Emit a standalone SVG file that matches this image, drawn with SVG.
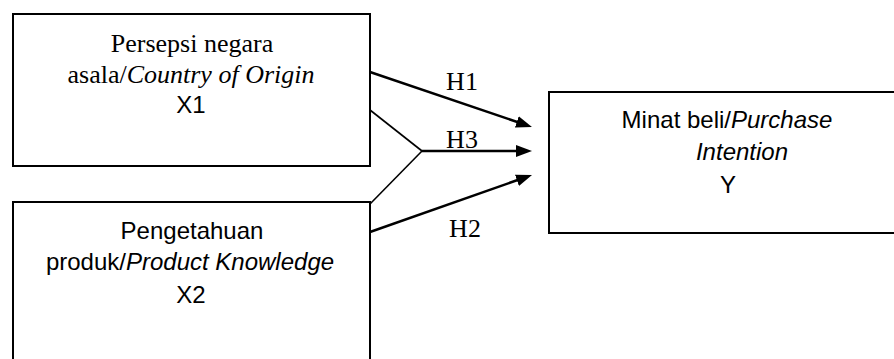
<svg xmlns="http://www.w3.org/2000/svg" width="894" height="359" viewBox="0 0 894 359">
<defs>
<style>
.box{fill:#fff;stroke:#000;stroke-width:2}
.serif{font-family:"Liberation Serif","Times New Roman",serif;font-size:26px;fill:#000}
.sans{font-family:"Liberation Sans",Arial,sans-serif;font-size:24px;fill:#000}
.lbl{font-family:"Liberation Serif","Times New Roman",serif;font-size:26px;fill:#000;text-anchor:middle}
.c{text-anchor:middle}
.it{font-style:italic}
.arr{stroke:#000;stroke-width:2.5;fill:none}
.thin{stroke:#000;stroke-width:1.6;fill:none}
</style>
<marker id="ah" viewBox="0 0 16 12" markerWidth="16" markerHeight="12" refX="6" refY="6" orient="auto" markerUnits="userSpaceOnUse">
<path d="M0,0 L16,6 L0,12 z" fill="#000"/>
</marker>
</defs>
<rect width="894" height="359" fill="#fff"/>
<g id="x1">
<rect class="box" x="13" y="14" width="357" height="152"/>
<text class="serif c" x="192" y="52">Persepsi negara</text>
<text class="serif c" x="191" y="83">asala/<tspan class="it">Country of Origin</tspan></text>
<text class="sans c" x="191" y="113">X1</text>
</g>
<g id="x2">
<rect class="box" x="13" y="202" width="357" height="180"/>
<text class="sans c" x="192" y="239">Pengetahuan</text>
<text class="sans c" x="190" y="270">produk/<tspan class="it">Product Knowledge</tspan></text>
<text class="sans c" x="191" y="303">X2</text>
</g>
<g id="y">
<rect class="box" x="549" y="92" width="360" height="141"/>
<text class="sans c" x="727" y="128">Minat beli/<tspan class="it">Purchase</tspan></text>
<text class="sans c it" x="742" y="160">Intention</text>
<text class="sans c" x="728" y="193">Y</text>
</g>
<g id="connectors">
<line class="arr" x1="370" y1="72" x2="522.5" y2="123.8" marker-end="url(#ah)"/>
<line class="thin" x1="370" y1="110" x2="422" y2="151"/>
<line class="thin" x1="370" y1="204" x2="422" y2="151"/>
<line class="arr" x1="422" y1="151" x2="522" y2="151" marker-end="url(#ah)"/>
<line class="arr" x1="370" y1="232" x2="522.6" y2="178.3" marker-end="url(#ah)"/>
<text class="lbl" x="462" y="90">H1</text>
<text class="lbl" x="462" y="148">H3</text>
<text class="lbl" x="465" y="237">H2</text>
</g>
</svg>
